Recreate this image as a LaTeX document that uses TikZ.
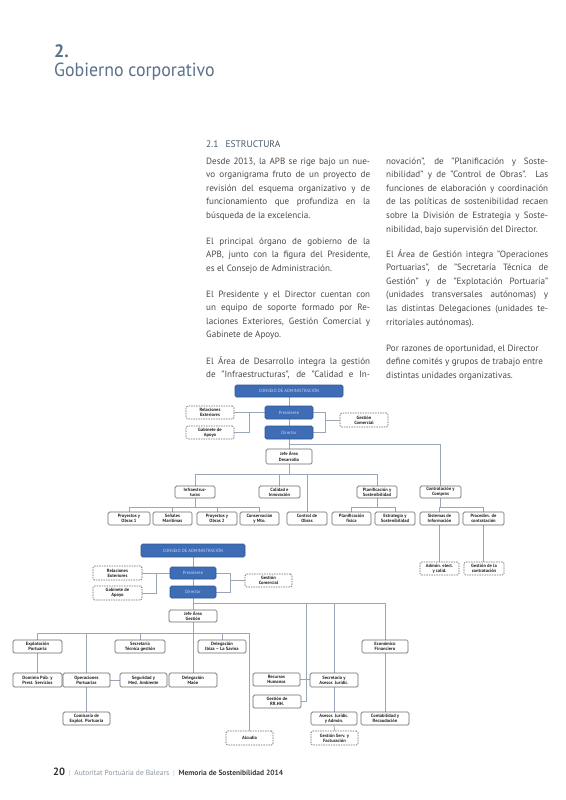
\documentclass[tikz,border=0pt]{standalone}
\usepackage{fontspec}
\setmainfont{PT Sans}
\usepackage{graphicx}
\definecolor{hd}{HTML}{5A7189}
\definecolor{bodyc}{HTML}{4A4A4A}
\definecolor{lnc}{HTML}{9AA7B8}
\definecolor{bxd}{HTML}{6A6A6A}
\definecolor{blf}{HTML}{3E6DB5}
\definecolor{bld}{HTML}{2D5796}
\definecolor{blt}{HTML}{C9D7F0}
\definecolor{foot}{HTML}{8A96A4}
\pgfdeclarelayer{bg}
\pgfsetlayers{bg,main}
\newcommand\JL[1]{\noindent\makebox[\hsize][s]{#1}\par}
\newcommand\LL[1]{\noindent #1\par}
\newcommand\bx[7]{\node[#6, minimum width={(#4-#2)*1pt}, minimum height={(#5-#3)*1pt}] (#1) at ({(#2+#4)/2},{(#3+#5)/2}) {#7};}
\tikzset{
  txt/.style={anchor=base west, inner sep=0pt, text=bodyc, font=\fontsize{9.1}{13.6}\selectfont},
  ob/.style={draw=bxd, line width=0.7pt, rounded corners=1.5pt, fill=white, align=center, inner sep=0pt, text=black!85, font=\fontsize{4.6}{5.1}\selectfont\bfseries},
  db/.style={ob, dashed, dash pattern=on 1.5pt off 1pt},
  bb/.style={draw=bld, line width=0.6pt, rounded corners=1.5pt, fill=blf, align=center, inner sep=0pt, text=blt, font=\fontsize{4.5}{5}\selectfont},
  ln/.style={draw=lnc, line width=0.8pt}
}
\begin{document}
\begin{tikzpicture}[x=1pt,y=-1pt]
\useasboundingbox (0,0) rectangle (565,800);
\begin{pgfonlayer}{bg}
\fill[white] (0,0) rectangle (565,800);
\end{pgfonlayer}
% header
\node[anchor=base west, inner sep=0pt, text=hd, font=\fontsize{18}{18}\selectfont\bfseries] (num) at (54,57) {2.};
\node[anchor=base west, inner sep=0pt, text=hd, font=\fontsize{19}{19}\selectfont] (tit) at (54,77) {\scalebox{0.94}[1]{Gobierno corporativo}};
\node[anchor=base west, inner sep=0pt, text=hd!80!black, font=\fontsize{9.5}{10}\selectfont] (sec) at (206,147) {2.1\hspace{7pt}ESTRUCTURA};
% left column
\node[txt] (l1) at (206,164) {\vtop{\hsize=164pt\parindent=0pt
\JL{Desde 2013, la APB se rige bajo un nue-}
\JL{vo organigrama fruto de un proyecto de}
\JL{revisión del esquema organizativo y de}
\JL{funcionamiento que profundiza en la}
\LL{búsqueda de la excelencia.}}};
\node[txt] (l2) at (206,244) {\vtop{\hsize=164pt\parindent=0pt
\JL{El principal órgano de gobierno de la}
\JL{APB, junto con la figura del Presidente,}
\LL{es el Consejo de Administración.}}};
\node[txt] (l3) at (206,297) {\vtop{\hsize=164pt\parindent=0pt
\JL{El Presidente y el Director cuentan con}
\JL{un equipo de soporte formado por Re-}
\JL{laciones Exteriores, Gestión Comercial y}
\LL{Gabinete de Apoyo.}}};
\node[txt] (l4) at (206,364) {\vtop{\hsize=164pt\parindent=0pt
\JL{El Área de Desarrollo integra la gestión}
\JL{de "Infraestructuras", de "Calidad e In-}}};
% right column
\node[txt] (r1) at (386,164) {\vtop{\hsize=162pt\parindent=0pt
\JL{novación", de "Planificación y Soste-}
\JL{nibilidad" y de "Control de Obras". Las}
\JL{funciones de elaboración y coordinación}
\JL{de las políticas de sostenibilidad recaen}
\JL{sobre la División de Estrategia y Soste-}
\LL{nibilidad, bajo supervisión del Director.}}};
\node[txt] (r2) at (386,257) {\vtop{\hsize=162pt\parindent=0pt
\JL{El Área de Gestión integra "Operaciones}
\JL{Portuarias", de "Secretaría Técnica de}
\JL{Gestión" y de "Explotación Portuaria"}
\JL{(unidades transversales autónomas) y}
\JL{las distintas Delegaciones (unidades te-}
\LL{rritoriales autónomas).}}};
\node[txt] (r3) at (386,351) {\vtop{\hsize=162pt\parindent=0pt
\LL{Por razones de oportunidad, el Director}
\LL{define comités y grupos de trabajo entre}
\LL{distintas unidades organizativas.}}};
% ===== top chart =====
\bx{c1}{235}{385}{343}{397}{bb}{CONSEJO DE ADMINISTRACIÓN}
\bx{p1}{265}{406}{313}{419}{bb}{Presidente}
\bx{d1}{265}{426}{313}{439}{bb}{Director}
\bx{re1}{186}{406}{234}{419}{db}{Relaciones\\Exteriores}
\bx{ga1}{186}{426}{234}{439}{db}{Gabinete de\\Apoyo}
\bx{gc1}{340}{413}{388}{427}{db}{Gestión\\Comercial}
\bx{j1}{266}{449}{312}{464}{ob}{Jefe Área\\Desarrollo}
\bx{inf}{175}{486}{215}{498}{ob}{Infraestruc-\\turas}
\bx{cal}{259}{486}{300}{498}{ob}{Calidad e\\Innovación}
\bx{pla}{357}{486}{397}{498}{ob}{Planificación y\\Sostenibilidad}
\bx{con}{420}{486}{461}{498}{ob}{Contratación y\\Compras}
\bx{po1}{108}{512}{150}{525}{ob}{Proyectos y\\Obras 1}
\bx{sen}{153}{512}{192}{525}{ob}{Señales\\Marítimas}
\bx{po2}{197}{512}{237}{525}{ob}{Proyectos y\\Obras 2}
\bx{cons}{240}{512}{279}{525}{ob}{Conservación\\y Mto.}
\bx{ctl}{287}{512}{327}{525}{ob}{Control de\\Obras}
\bx{pfa}{332}{512}{371}{525}{ob}{Planificación\\física}
\bx{est}{375}{512}{415}{525}{ob}{Estrategia y\\Sostenibilidad}
\bx{sis}{420}{512}{459}{525}{ob}{Sistemas de\\Información}
\bx{pro}{463}{512}{504}{525}{ob}{Procedim. de\\contratación}
\bx{adm}{420}{562}{459}{575}{db}{Admón. elect.\\y calid.}
\bx{gco}{464}{562}{504}{575}{db}{Gestión de la\\contratación}
% ===== bottom chart =====
\bx{c2}{141}{544}{245}{557}{bb}{CONSEJO DE ADMINISTRACIÓN}
\bx{p2}{170}{567}{216}{579}{bb}{Presidente}
\bx{d2}{170}{586}{216}{598}{bb}{Director}
\bx{re2}{93}{566}{142}{580}{db}{Relaciones\\Exteriores}
\bx{ga2}{93}{586}{142}{600}{db}{Gabinete de\\Apoyo}
\bx{gc2}{245}{574}{292}{587}{db}{Gestión\\Comercial}
\bx{j2}{169}{610}{217}{622}{ob}{Jefe Área\\Gestión}
\bx{ex}{13}{640}{62}{653}{ob}{Explotación\\Portuaria}
\bx{sec2}{115}{640}{165}{653}{ob}{Secretaría\\Técnica gestión}
\bx{ibi}{198}{640}{246}{653}{ob}{Delegación\\Ibiza -- La Savina}
\bx{eco}{362}{640}{408}{653}{ob}{Económico\\Financiero}
\bx{dom}{13}{673}{62}{687}{ob}{Dominio Púb. y\\Prest. Servicios}
\bx{ope}{63}{673}{110}{687}{ob}{Operaciones\\Portuarias}
\bx{seg}{120}{673}{167}{687}{ob}{Seguridad y\\Med. Ambiente}
\bx{mao}{169}{673}{217}{687}{ob}{Delegación\\Maón}
\bx{rrhh}{253}{673}{300}{686}{ob}{Recursos\\Humanos}
\bx{saj}{310}{673}{358}{687}{ob}{Secretaría y\\Asesor. Jurídic.}
\bx{grr}{253}{695}{301}{708}{ob}{Gestión de\\RR.HH.}
\bx{com}{63}{712}{110}{725}{ob}{Comisaría de\\Explot. Portuaria}
\bx{aja}{311}{712}{357}{725}{ob}{Asesor. Jurídic.\\y Admón.}
\bx{cyr}{361}{712}{409}{725}{ob}{Contabilidad y\\Recaudación}
\bx{alc}{226}{731}{273}{745}{db}{Alcudia}
\bx{gsf}{311}{731}{358}{745}{db}{Gestión Serv. y\\Facturación}
% ===== connectors =====
\coordinate (t444) at (0,444);
\coordinate (t474) at (0,474);
\coordinate (t507) at (0,507);
\coordinate (xL1) at (249,0);
\coordinate (xR1) at (325,0);
\coordinate (b603) at (0,603);
\coordinate (b633) at (0,633);
\coordinate (xL2) at (156,0);
\coordinate (xR2) at (230,0);
\coordinate (xRH) at (306,0);
\begin{pgfonlayer}{bg}
% top
\draw[ln] (c1.south) -- (c1.south |- j1.north);
\draw[ln] (re1.east) -- (p1.west);
\draw[ln] (ga1.east) -- (ga1.east -| xL1) -- (re1.east -| xL1);
\draw[ln] (p1.east) -- (p1.east -| xR1) -- (d1.east -| xR1) -- (d1.east);
\draw[ln] (gc1.west -| xR1) -- (gc1.west);
\draw[ln] (d1.south |- t444) -| (con.north);
\draw[ln] (j1.south) -- (j1.south |- t474);
\draw[ln] (inf.north |- t474) -- (pla.north |- t474);
\foreach \n in {inf,cal,pla,ctl} \draw[ln] (\n.north |- t474) -- (\n.north);
\foreach \p/\a/\b in {inf/po1/cons, pla/pfa/est, con/sis/pro} {
  \draw[ln] (\p.south) -- (\p.south |- t507);
  \draw[ln] (\a.north |- t507) -- (\b.north |- t507);
}
\foreach \n in {po1,sen,po2,cons,pfa,est,sis,pro} \draw[ln] (\n.north |- t507) -- (\n.north);
\draw[ln] (sis.south) -- (sis.south |- adm.north);
\draw[ln] (pro.south) -- (pro.south |- gco.north);
% bottom
\draw[ln] (c2.south) -- (c2.south |- mao.north);
\draw[ln] (re2.east) -- (p2.west);
\draw[ln] (ga2.east) -- (ga2.east -| xL2) -- (re2.east -| xL2);
\draw[ln] (p2.east) -- (p2.east -| xR2) -- (d2.east -| xR2) -- (d2.east);
\draw[ln] (gc2.west -| xR2) -- (gc2.west);
\draw[ln] (d2.south |- b603) -| (eco.north);
\draw[ln] (b603 -| xRH) -- (grr.east -| xRH);
\draw[ln] (rrhh.east) -- (rrhh.east -| saj.west);
\draw[ln] (grr.east) -- (grr.east -| xRH);
\draw[ln] (saj.north |- b603) -- (saj.north);
\draw[ln] (saj.south) -- (aja.north);
\draw[ln] (aja.south) -- (gsf.north);
\draw[ln] (eco.south) -- (eco.south |- cyr.north);
\draw[ln] (ex.north |- b633) -- (alc.north |- b633);
\foreach \n in {ex,sec2,ibi,ope,alc} \draw[ln] (\n.north |- b633) -- (\n.north);
\draw[ln] (ex.south) -- (dom.north);
\draw[ln] (ope.south) -- (com.north);
\draw[ln] (ope.east) -- (seg.west);
\end{pgfonlayer}
% footer
\node[anchor=base west, inner sep=0pt, font=\fontsize{7.5}{8}\selectfont] (ft) at (53,775) {{\fontsize{10.5}{11}\selectfont\bfseries\color{black!80}20}\enspace{\color{foot!60}|}\enspace{\color{foot}Autoritat Portuària de Balears}\enspace{\color{foot!60}|}\enspace{\bfseries\color{black!75}Memoria de Sostenibilidad 2014}};
\end{tikzpicture}
\end{document}
